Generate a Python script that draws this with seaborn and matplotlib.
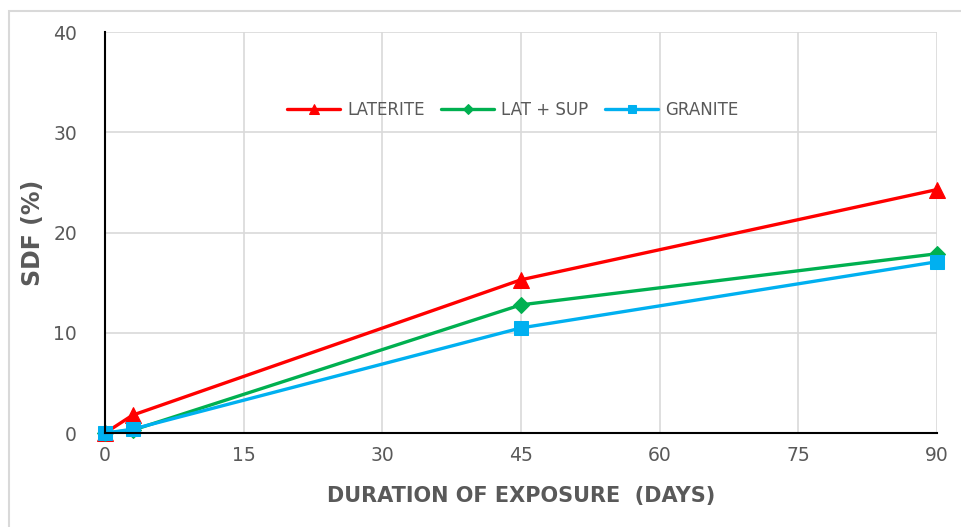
import matplotlib
matplotlib.use("Agg")
import matplotlib.pyplot as plt
import seaborn as sns
import pandas as pd
from matplotlib.patches import Rectangle

# values
days = [0, 3, 45, 90]
laterite = [0.0, 1.8, 15.3, 24.3]
lat_sup = [0.0, 0.3, 12.8, 17.9]
granite = [0.0, 0.4, 10.5, 17.1]
series_names = ["LATERITE", "LAT + SUP", "GRANITE"]
x_ticks = [0, 15, 30, 45, 60, 75, 90]
y_ticks = [0, 10, 20, 30, 40]

df = pd.DataFrame({
    "days": days * 3,
    "sdf": laterite + lat_sup + granite,
    "mix": [n for n in series_names for _ in days],
})

palette = {"LATERITE": "#ff0000", "LAT + SUP": "#00b050", "GRANITE": "#00b0f0"}
markers = {"LATERITE": "^", "LAT + SUP": "D", "GRANITE": "s"}
sizes = {"LATERITE": 12, "LAT + SUP": 8, "GRANITE": 10}

sns.set_style("white")
plt.rcParams["font.family"] = ["DejaVu Sans"]

fig = plt.figure(figsize=(9.62, 5.27), dpi=100)
ax = fig.add_axes([0.109, 0.178, 0.865, 0.761])

for name in series_names:
    sub = df[df["mix"] == name]
    sns.lineplot(data=sub, x="days", y="sdf", ax=ax, color=palette[name],
                 marker=markers[name], markersize=sizes[name],
                 markeredgecolor=palette[name], linewidth=2.4, label=name,
                 clip_on=False)

ax.set_xlim(0, 90)
ax.set_ylim(0, 40)
ax.set_xticks(x_ticks)
ax.set_yticks(y_ticks)
ax.grid(True, color="#d9d9d9", linewidth=1.2)
ax.set_axisbelow(True)
for s in ["top", "right"]:
    ax.spines[s].set_visible(False)
ax.spines["left"].set_color("black")
ax.spines["bottom"].set_color("black")
ax.spines["left"].set_linewidth(1.5)
ax.spines["bottom"].set_linewidth(1.5)
ax.tick_params(axis="both", length=0, labelsize=13.5, labelcolor="#595959")
ax.tick_params(axis="x", pad=9)
ax.tick_params(axis="y", pad=20)

ax.set_xlabel("DURATION OF EXPOSURE  (DAYS)", fontsize=15, fontweight="bold",
              color="#595959", labelpad=15)
ax.set_ylabel("SDF (%)", fontsize=17, fontweight="bold", color="#595959",
              labelpad=6)

handles, labels = ax.get_legend_handles_labels()
ax.legend(handles, labels, loc="upper center", bbox_to_anchor=(0.49, 0.865),
          ncol=3, frameon=False, fontsize=12, labelcolor="#595959",
          handlelength=3.2, columnspacing=1.0, handletextpad=0.4,
          markerscale=0.6)

fig.patches.append(Rectangle((0.009, -0.01), 1.0, 0.99, transform=fig.transFigure,
                             fill=False, edgecolor="#d9d9d9", linewidth=1.5))

fig.savefig("out.png", dpi=100)
